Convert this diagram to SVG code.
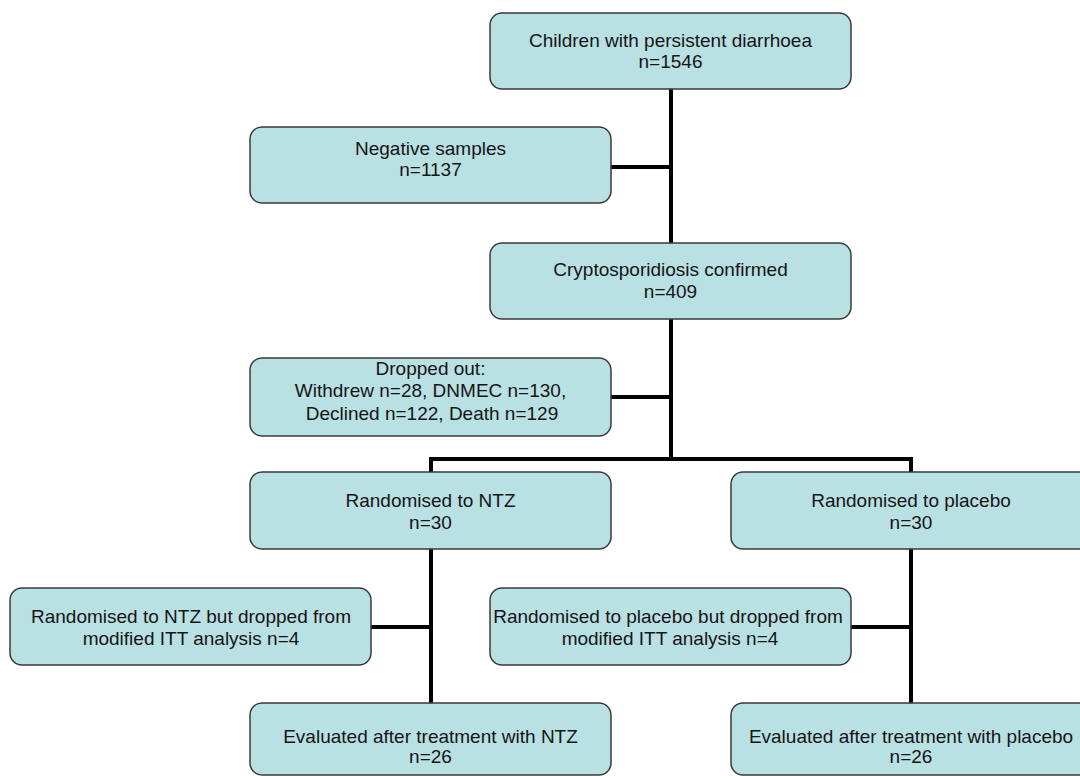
<svg xmlns="http://www.w3.org/2000/svg" width="1080" height="776" viewBox="0 0 1080 776">
<style>
.box{fill:#b9e0e3;stroke:#3a3a3a;stroke-width:1.5}
.t{font-family:"Liberation Sans",Arial,sans-serif;font-size:19px;fill:#151515;text-anchor:middle}
.c{fill:none;stroke:#000;stroke-width:4;stroke-linecap:square}
</style>
<rect width="1080" height="776" fill="#fff"/>
<g id="connectors">
<path class="c" d="M671,89 V243 M611,167 H671 M671,319 V459 M611,397 H671 M431,459 H911 M431,459 V472 M911,459 V472 M431,549 V703 M371,627 H431 M911,549 V703 M851,627 H911"/>
</g>
<g id="n1"><rect class="box" x="490" y="13" width="361" height="76" rx="12"/>
<text class="t" x="670.5" y="47">Children with persistent diarrhoea</text>
<text class="t" x="670.5" y="68">n=1546</text></g>
<g id="n2"><rect class="box" x="250" y="127" width="361" height="76" rx="12"/>
<text class="t" x="430.5" y="155">Negative samples</text>
<text class="t" x="430.5" y="176">n=1137</text></g>
<g id="n3"><rect class="box" x="490" y="243" width="361" height="76" rx="12"/>
<text class="t" x="670.5" y="276">Cryptosporidiosis confirmed</text>
<text class="t" x="670.5" y="298">n=409</text></g>
<g id="n4"><rect class="box" x="250" y="358" width="361" height="78" rx="12"/>
<text class="t" x="430.5" y="375">Dropped out:</text>
<text class="t" x="430.5" y="397">Withdrew n=28, DNMEC n=130,</text>
<text class="t" x="432" y="420">Declined n=122, Death n=129</text></g>
<g id="n5"><rect class="box" x="250" y="472" width="361" height="77" rx="12"/>
<text class="t" x="430.5" y="507">Randomised to NTZ</text>
<text class="t" x="430.5" y="529">n=30</text></g>
<g id="n6"><rect class="box" x="731" y="472" width="361" height="77" rx="12"/>
<text class="t" x="911" y="507">Randomised to placebo</text>
<text class="t" x="911" y="529">n=30</text></g>
<g id="n7"><rect class="box" x="10" y="588" width="361" height="77" rx="12"/>
<text class="t" x="191" y="623">Randomised to NTZ but dropped from</text>
<text class="t" x="191" y="645">modified ITT analysis n=4</text></g>
<g id="n8"><rect class="box" x="490" y="588" width="361" height="77" rx="12"/>
<text class="t" x="668" y="623">Randomised to placebo but dropped from</text>
<text class="t" x="670" y="645">modified ITT analysis n=4</text></g>
<g id="n9"><rect class="box" x="250" y="703" width="361" height="72" rx="12"/>
<text class="t" x="430.5" y="743">Evaluated after treatment with NTZ</text>
<text class="t" x="430.5" y="763">n=26</text></g>
<g id="n10"><rect class="box" x="731" y="703" width="361" height="72" rx="12"/>
<text class="t" x="911" y="743">Evaluated after treatment with placebo</text>
<text class="t" x="911" y="763">n=26</text></g>
</svg>
